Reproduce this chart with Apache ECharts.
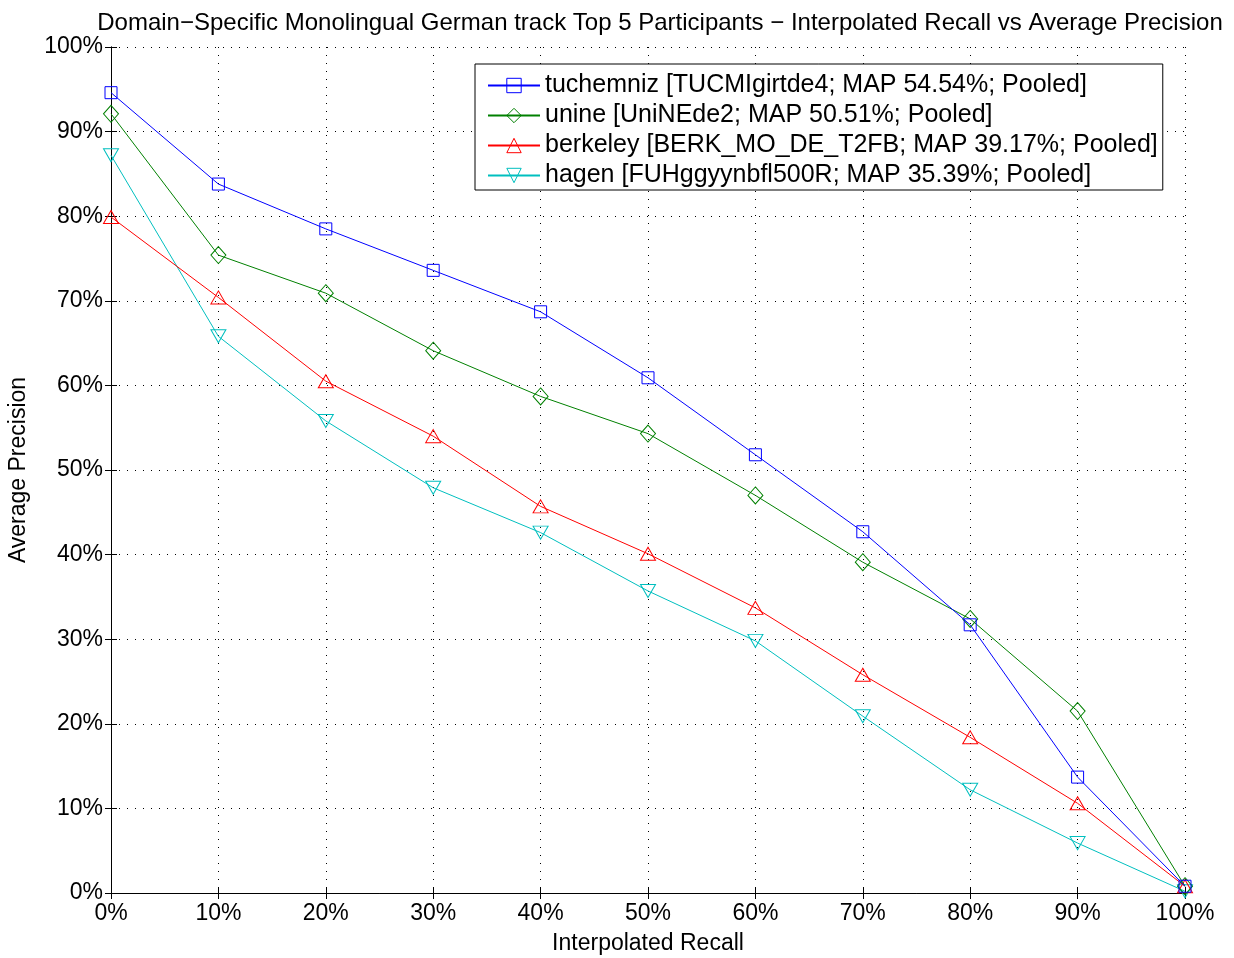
<!DOCTYPE html>
<html><head><meta charset="utf-8">
<script src="https://cdn.jsdelivr.net/npm/echarts@6/dist/echarts.min.js"></script>
<style>html,body{margin:0;padding:0;background:#fff}#c{width:1234px;height:958px}</style>
</head><body><div id="c"></div>
<script>
const recall = [0,10,20,30,40,50,60,70,80,90,100];
const tuchemniz = [94.6,83.8,78.5,73.6,68.7,60.9,51.8,42.7,31.7,13.7,0.8];
const unine = [92.1,75.4,70.9,64.1,58.7,54.3,47.0,39.1,32.4,21.5,0.8];
const berkeley = [79.9,70.4,60.5,54.0,45.7,40.1,33.7,25.8,18.4,10.6,0.8];
const hagen = [87.2,65.8,55.8,47.9,42.6,35.7,29.8,20.9,12.2,5.9,0.2];
const names = [
  'tuchemniz [TUCMIgirtde4; MAP 54.54%; Pooled]',
  'unine [UniNEde2; MAP 50.51%; Pooled]',
  'berkeley [BERK_MO_DE_T2FB; MAP 39.17%; Pooled]',
  'hagen [FUHggyynbfl500R; MAP 35.39%; Pooled]'
];
const titleText = 'Domain\u2212Specific Monolingual German track Top 5 Participants \u2212 Interpolated Recall vs Average Precision';
const FONT = 'Liberation Sans, Arial, sans-serif';
const colors = ['#0000ff','#008000','#ff0000','#00bfbf'];
const symbols = ['rect','path://M5,0 L10,6 L5,12 L0,6 Z','triangle','path://M0,0 L10,0 L5,9 Z'];
const sizes = [[12,12],[15,17],[15,13],[15,13]];
const datas = [tuchemniz, unine, berkeley, hagen];

const chart = echarts.init(document.getElementById('c'), null, {renderer:'canvas'});
const series = datas.map((d,i)=>({
  name: names[i], type:'line', data: d.map((v,j)=>[recall[j], v]),
  symbol: symbols[i], symbolSize: sizes[i], showAllSymbol:true,
  lineStyle:{color:colors[i], width:1},
  itemStyle:{color:'rgba(0,0,0,0)', borderColor:colors[i], borderWidth:1},
  emphasis:{disabled:true}, animation:false, z: 10-i
}));
const axisBase = {
  min:0, max:100, interval:10,
  axisLine:{show:true, lineStyle:{color:'#000', width:1}},
  axisTick:{show:true, inside:true, length:6, lineStyle:{color:'#000'}},
};
chart.setOption({
  animation:false,
  title:{text:titleText, left:655, top:6, textAlign:'center',
    textStyle:{fontFamily:FONT, fontSize:24, fontWeight:'normal', color:'#000'}},
  grid:{left:111, right:49, top:47, bottom:65, show:false, outerBoundsMode:'none', containLabel:false},
  legend:{
    orient:'vertical', left:475, top:64, padding:[9,5,2,12],
    backgroundColor:'#fff', borderColor:'#000', borderWidth:1,
    itemWidth:52, itemHeight:18, itemGap:5,
    textStyle:{fontFamily:FONT, fontSize:25, color:'#000'},
    data: names.map((n,i)=>({name:n, itemStyle:{color:'rgba(0,0,0,0)', borderColor:colors[i], borderWidth:1}})),
    selectedMode:false
  },
  xAxis:[
    Object.assign({}, axisBase, {type:'value', position:'bottom',
      name:'Interpolated Recall', nameLocation:'middle', nameGap:39,
      nameTextStyle:{fontFamily:FONT, fontSize:23, color:'#000'},
      axisLabel:{formatter:'{value}%', fontFamily:FONT, fontSize:23, color:'#000', margin:9},
      splitLine:{show:true, lineStyle:{color:'#000', type:[1,7], width:1}}}),
    Object.assign({}, axisBase, {type:'value', position:'top', axisLabel:{show:false}, splitLine:{show:false}})
  ],
  yAxis:[
    Object.assign({}, axisBase, {type:'value', position:'left',
      name:'Average Precision', nameLocation:'middle', nameGap:81,
      nameTextStyle:{fontFamily:FONT, fontSize:23, color:'#000'},
      axisLabel:{formatter:'{value}%', fontFamily:FONT, fontSize:23, color:'#000', margin:8},
      splitLine:{show:true, lineStyle:{color:'#000', type:[1,7], width:1}}}),
    Object.assign({}, axisBase, {type:'value', position:'right', axisLabel:{show:false}, splitLine:{show:false}})
  ],
  series: series
});
</script></body></html>
